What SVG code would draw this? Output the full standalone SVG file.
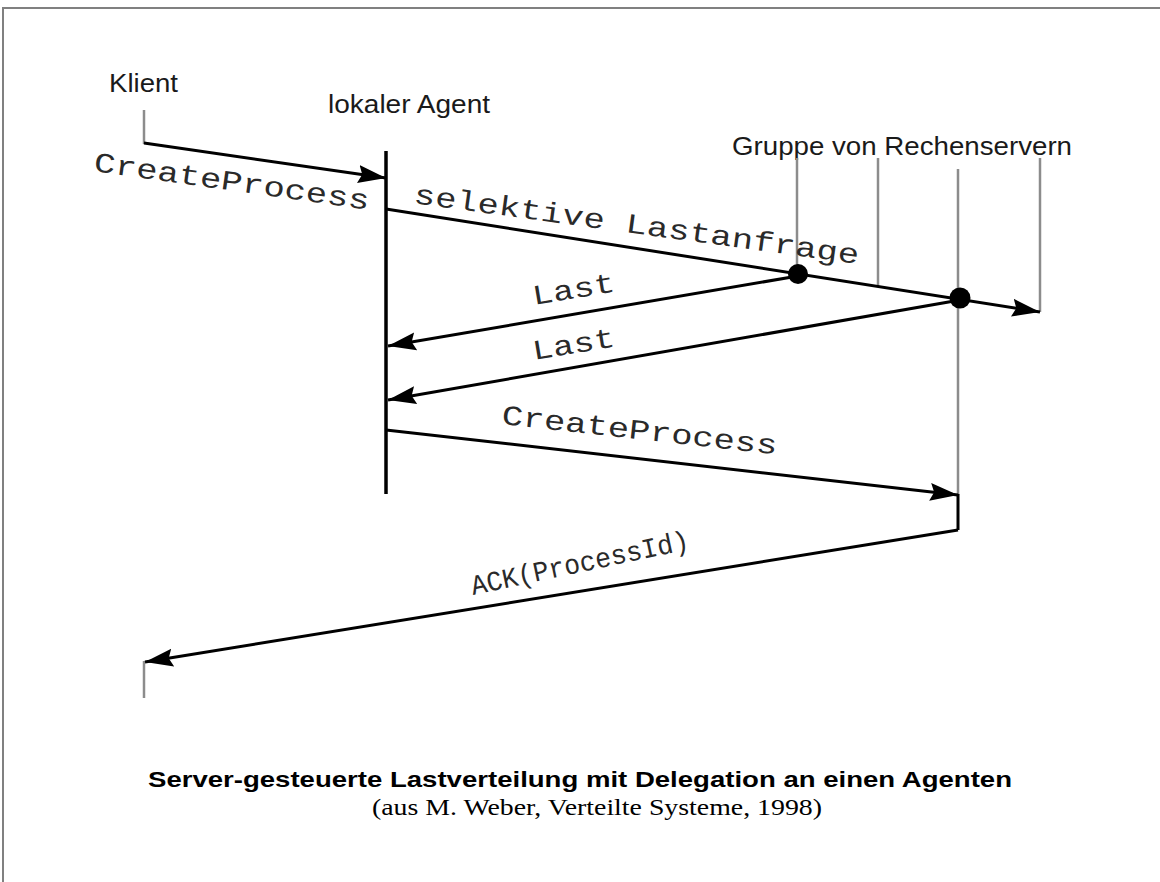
<svg xmlns="http://www.w3.org/2000/svg" width="1160" height="882" viewBox="0 0 1160 882">
<style>
.frame{stroke:#808080;stroke-width:2;fill:none}
.life{stroke:#8c8c8c;stroke-width:2.5;fill:none}
.agent{stroke:#000;stroke-width:3.5;fill:none}
.msg{stroke:#000;stroke-width:3;fill:none}
.lbl{font-family:"Liberation Sans",Arial,sans-serif;font-size:25px;fill:#1a1a1a}
.mono{font-family:"Liberation Mono","Courier New",monospace;font-size:28px;fill:#2a2a2a}
.cap{font-family:"Liberation Sans",Arial,sans-serif;font-size:22px;font-weight:bold;fill:#000}
.sub{font-family:"Liberation Serif","Times New Roman",serif;font-size:23px;fill:#000}
</style>
<defs>
<marker id="ah" markerUnits="userSpaceOnUse" markerWidth="30" markerHeight="22" viewBox="0 0 30 22" refX="28" refY="11" orient="auto">
<path d="M0,2 L28,11 L0,20 L4,11 Z" fill="#000"/>
</marker>
</defs>
<rect width="1160" height="882" fill="#fff"/>
<g id="frame">
<path class="frame" d="M3,882 V8 H1160"/>
</g>
<g id="klient">
<text class="lbl" x="109" y="92" textLength="69" lengthAdjust="spacingAndGlyphs">Klient</text>
<line class="life" x1="144" y1="110" x2="144" y2="144"/>
<line class="life" x1="144" y1="661" x2="144" y2="698"/>
</g>
<g id="agent">
<text class="lbl" x="328" y="113" textLength="162" lengthAdjust="spacingAndGlyphs">lokaler Agent</text>
<line class="agent" x1="386" y1="151" x2="386" y2="494"/>
</g>
<g id="server">
<text class="lbl" x="732" y="155" textLength="340" lengthAdjust="spacingAndGlyphs">Gruppe von Rechenservern</text>
<line class="life" x1="797" y1="158" x2="797" y2="275"/>
<line class="life" x1="878" y1="158" x2="878" y2="287"/>
<line class="life" x1="958" y1="169" x2="958" y2="495"/>
<line class="life" x1="1040" y1="158" x2="1040" y2="312"/>
<circle cx="798" cy="274" r="10" fill="#000"/>
<circle cx="960" cy="298" r="10.5" fill="#000"/>
</g>
<g id="connectors">
<line class="msg" x1="144" y1="143" x2="386" y2="178" marker-end="url(#ah)"/>
<line class="msg" x1="386" y1="209" x2="1040" y2="312" marker-end="url(#ah)"/>
<line class="msg" x1="798" y1="276" x2="388" y2="346" marker-end="url(#ah)"/>
<line class="msg" x1="960" y1="300" x2="388" y2="400" marker-end="url(#ah)"/>
<line class="msg" x1="386" y1="430" x2="958" y2="495" marker-end="url(#ah)"/>
<path class="msg" d="M958,494 V530"/>
<line class="msg" x1="958" y1="530" x2="145" y2="662" marker-end="url(#ah)"/>
</g>
<g id="labels">
<text class="mono" x="93" y="171" textLength="278" lengthAdjust="spacingAndGlyphs" transform="rotate(8 93 171)">CreateProcess</text>
<text class="mono" x="413" y="203" textLength="449" lengthAdjust="spacingAndGlyphs" transform="rotate(7.8 413 203)">selektive Lastanfrage</text>
<text class="mono" x="534" y="305" textLength="83" lengthAdjust="spacingAndGlyphs" transform="rotate(-9.5 534 305)">Last</text>
<text class="mono" x="534" y="360" textLength="83" lengthAdjust="spacingAndGlyphs" transform="rotate(-9.5 534 360)">Last</text>
<text class="mono" x="501" y="424" textLength="277" lengthAdjust="spacingAndGlyphs" transform="rotate(6.3 501 424)">CreateProcess</text>
<text class="mono" x="473" y="595" textLength="222" lengthAdjust="spacingAndGlyphs" transform="rotate(-12 473 595)">ACK(ProcessId)</text>
</g>
<g id="caption">
<text class="cap" x="148" y="787" textLength="864" lengthAdjust="spacingAndGlyphs">Server-gesteuerte Lastverteilung mit Delegation an einen Agenten</text>
<text class="sub" x="372" y="815" textLength="450" lengthAdjust="spacingAndGlyphs">(aus M. Weber, Verteilte Systeme, 1998)</text>
</g>
</svg>
